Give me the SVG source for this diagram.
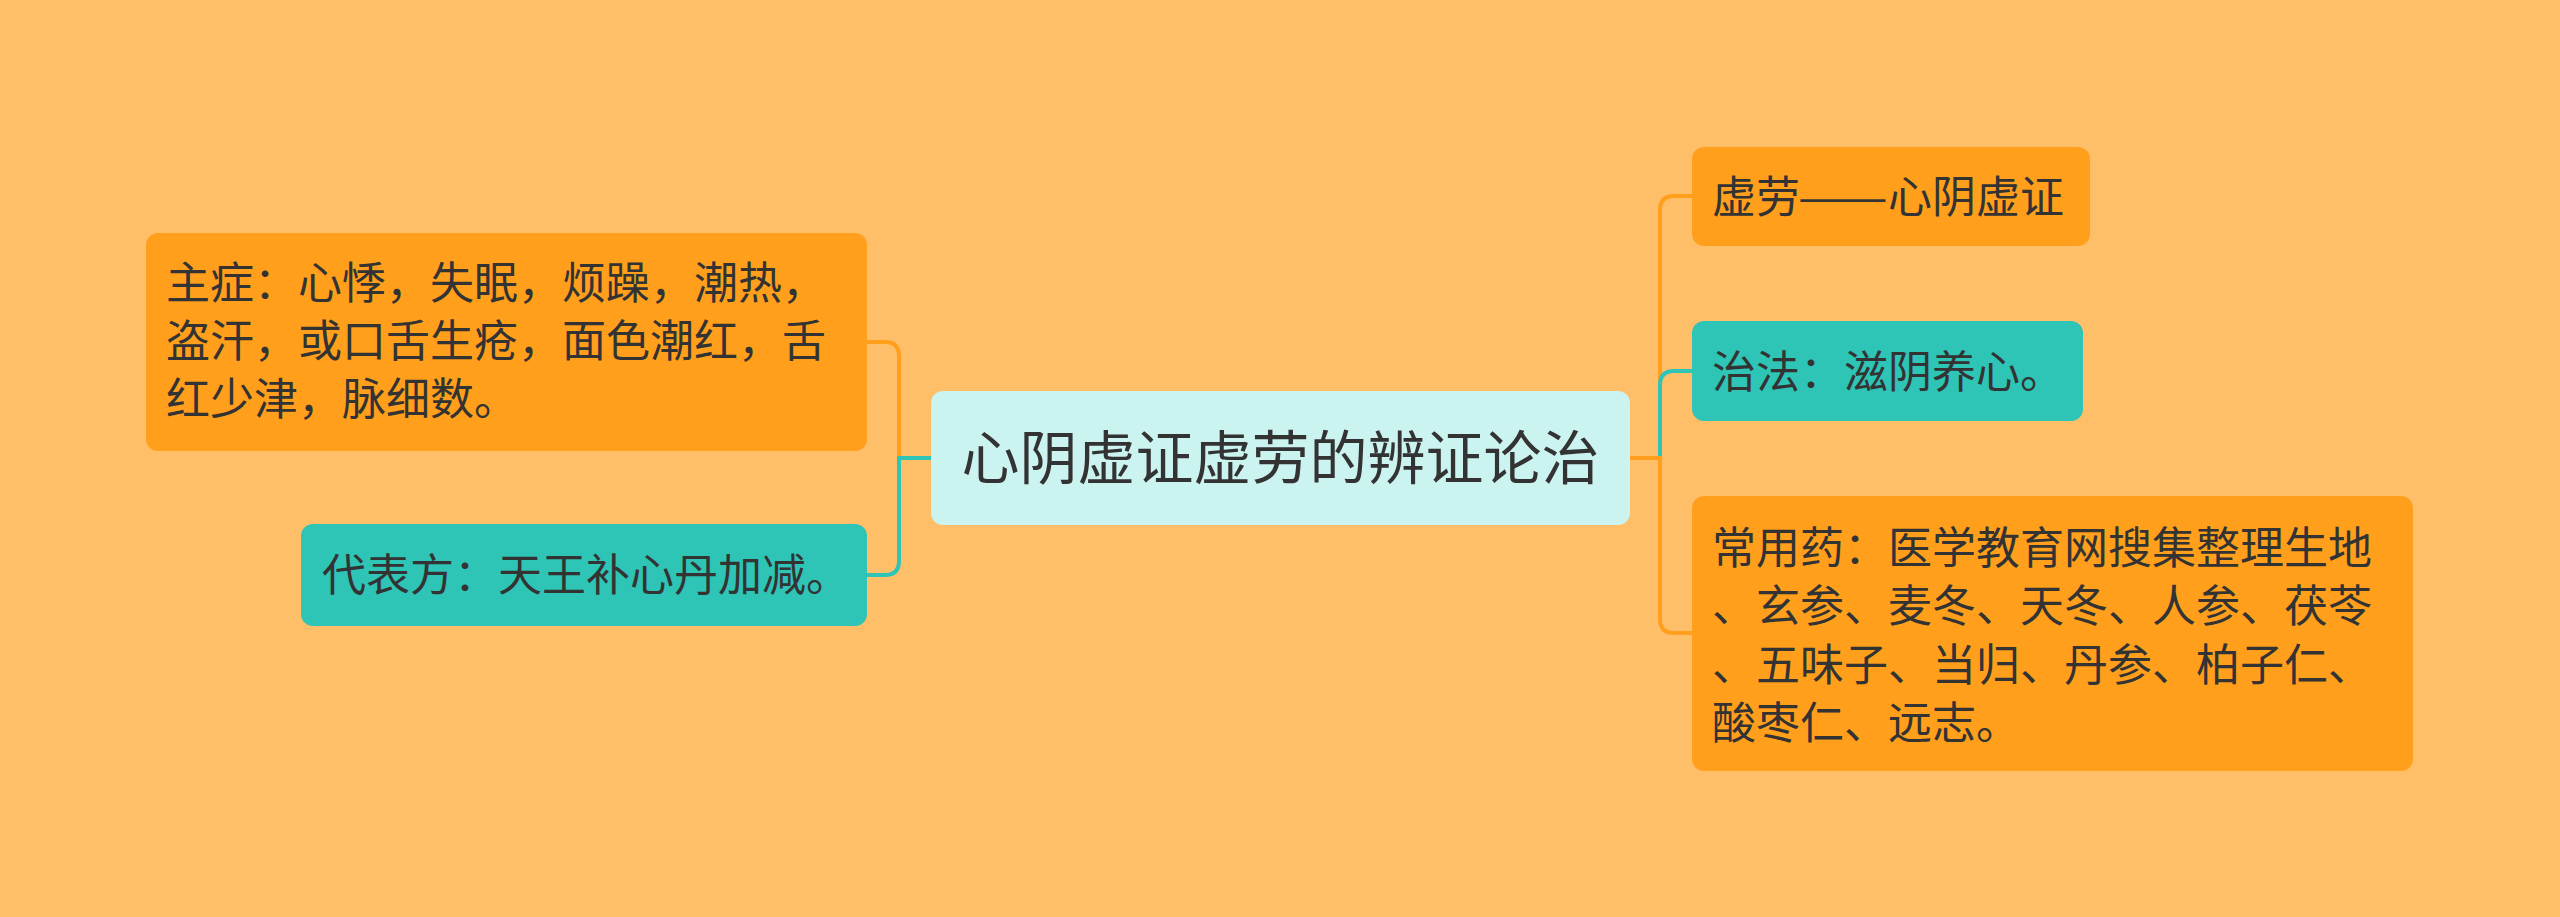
<svg xmlns="http://www.w3.org/2000/svg" width="2560" height="917" viewBox="0 0 2560 917">
<style>
text{font-family:"Noto Sans CJK SC","Noto Sans",sans-serif;fill:#333333;}
.t{font-size:44px;}
.c{font-size:58px;}
.or{fill:#FF9F1C;}
.tl{fill:#2EC4B6;}
.ctr{fill:#CBF3F0;}
.eo{fill:none;stroke:#FF9F1C;stroke-width:4;}
.et{fill:none;stroke:#2EC4B6;stroke-width:4;}
</style>
<rect x="0" y="0" width="2560" height="917" fill="#FFBF69"/>
<g id="connectors">
<path class="eo" d="M931,458 H899 V356 Q899,342 885,342 H867"/>
<path class="et" d="M931,458 H899 V561 Q899,575 885,575 H867"/>
<path class="eo" d="M1630,458 H1660 V210 Q1660,196 1674,196 H1692"/>
<path class="et" d="M1630,458 H1660 V385 Q1660,371 1674,371 H1692"/>
<path class="eo" d="M1630,458 H1660 V619 Q1660,633 1674,633 H1692"/>
</g>
<g id="center">
<rect class="ctr" x="931" y="391" width="699" height="134" rx="12"/>
<text class="c" x="1280.5" y="479" text-anchor="middle">心阴虚证虚劳的辨证论治</text>
</g>
<g id="node-l1">
<rect class="or" x="146" y="233" width="721" height="218" rx="12"/>
<text class="t" x="166" y="299">主症：心悸，失眠，烦躁，潮热，</text>
<text class="t" x="166" y="357">盗汗，或口舌生疮，面色潮红，舌</text>
<text class="t" x="166" y="415">红少津，脉细数。</text>
</g>
<g id="node-l2">
<rect class="tl" x="301" y="524" width="566" height="102" rx="12"/>
<text class="t" x="322" y="591">代表方：天王补心丹加减。</text>
</g>
<g id="node-r1">
<rect class="or" x="1692" y="147" width="398" height="99" rx="12"/>
<text class="t" x="1712" y="213">虚劳<tspan x="1798" textLength="90" lengthAdjust="spacingAndGlyphs">——</tspan><tspan x="1888">心阴虚证</tspan></text>
</g>
<g id="node-r2">
<rect class="tl" x="1692" y="321" width="391" height="100" rx="12"/>
<text class="t" x="1712" y="388">治法：滋阴养心。</text>
</g>
<g id="node-r3">
<rect class="or" x="1692" y="496" width="721" height="275" rx="12"/>
<text class="t" x="1712" y="564">常用药：医学教育网搜集整理生地</text>
<text class="t" x="1712" y="622">、玄参、麦冬、天冬、人参、茯苓</text>
<text class="t" x="1712" y="681">、五味子、当归、丹参、柏子仁、</text>
<text class="t" x="1712" y="739">酸枣仁、远志。</text>
</g>
</svg>
